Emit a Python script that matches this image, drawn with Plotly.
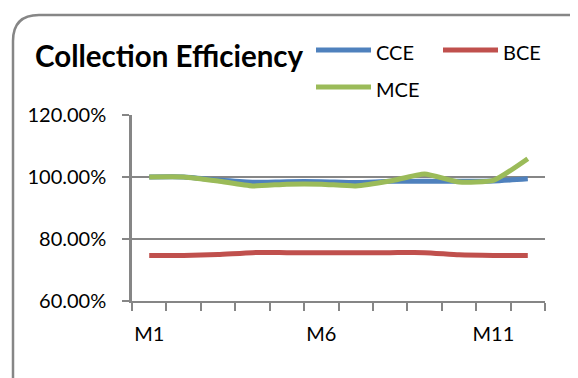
import plotly.graph_objects as go

# chart data
months = ["M1", "M2", "M3", "M4", "M5", "M6", "M7", "M8", "M9", "M10", "M11", "M12"]
cce = [100.0, 100.0, 99.0, 98.3, 98.5, 98.5, 98.2, 98.6, 98.6, 98.6, 98.7, 99.4]
bce = [74.7, 74.7, 75.0, 75.6, 75.6, 75.6, 75.6, 75.6, 75.6, 74.9, 74.7, 74.7]
mce = [100.0, 100.0, 98.7, 97.1, 97.7, 97.7, 97.1, 98.7, 101.0, 98.4, 98.9, 105.9]
series = ["CCE", "BCE", "MCE"]
colors = ["#4F81BD", "#C0504D", "#9BBB59"]
y_ticks = [60, 80, 100, 120]
x_labels = ["M1", "M6", "M11"]

# the page body adds an 8px margin, so the figure is shrunk by that much
OFF = 8
W, H = 578 - OFF, 378 - OFF
PL, PR, PT, PB = 132, 545, 115, 301  # plot area in screen pixels
FONT = "Lato"
GRID = "#868686"

x = list(range(1, len(months) + 1))


def px_x(p):
    return (p - PL) / (PR - PL)


def px_y(p):
    return (PB - p) / (PB - PT)


fig = go.Figure()
for name, vals, color in zip(series, [cce, bce, mce], colors):
    fig.add_trace(go.Scatter(
        x=x, y=vals, name=name, mode="lines",
        line=dict(color=color, width=5, shape="spline", smoothing=0.5),
        hovertext=months, showlegend=False,
    ))

# legend drawn by hand so the swatches match the Excel look (long, thick)
legend_pos = [(316, 50), (443, 50), (316, 87)]
for name, color, (lx, ly) in zip(series, colors, legend_pos):
    fig.add_shape(type="line", xref="paper", yref="paper",
                  x0=px_x(lx), x1=px_x(lx + 55), y0=px_y(ly), y1=px_y(ly),
                  line=dict(color=color, width=5))
    fig.add_annotation(text=name, xref="paper", yref="paper", x=px_x(lx + 58), y=px_y(ly + 2),
                       xanchor="left", yanchor="middle", showarrow=False,
                       font=dict(size=20, family=FONT, color="black"))

# rounded chart border like the Excel chart area
x0, y0, x1, y1 = px_x(13), px_y(15), px_x(600), px_y(400)
rx = 26 / (PR - PL)
ry = 26 / (PB - PT)
path = (f"M {x0},{y0 - ry} L {x0},{y1} L {x1},{y1} L {x1},{y0 - ry} "
        f"Q {x1},{y0} {x1 - rx},{y0} L {x0 + rx},{y0} Q {x0},{y0} {x0},{y0 - ry} Z")
fig.add_shape(type="path", path=path, xref="paper", yref="paper",
              line=dict(color=GRID, width=2.5), layer="below")

fig.update_layout(
    width=W, height=H,
    margin=dict(l=PL - OFF, r=W + OFF - PR, t=PT - OFF, b=H + OFF - PB),
    paper_bgcolor="white", plot_bgcolor="white",
    font=dict(family=FONT, size=20, color="black"),
    title=dict(text="<b>Collection Efficiency</b>", x=(35 - OFF) / W, xanchor="left",
               y=1 - (57 - OFF) / H, yanchor="middle", font=dict(size=29.5, family=FONT)),
    showlegend=False,
)
fig.update_yaxes(range=[60, 120], tickvals=y_ticks, ticktext=[f"{v:.2f}%" for v in y_ticks],
                 showgrid=True, gridcolor=GRID, gridwidth=2, zeroline=False,
                 showline=True, linecolor=GRID, linewidth=2.5,
                 ticks="outside", ticklen=7, tickwidth=2, tickcolor=GRID,
                 ticklabelstandoff=12)
fig.update_xaxes(range=[0.5, 12.5], tickvals=[1, 6, 11], ticktext=x_labels,
                 showgrid=False, zeroline=False, showline=True, linecolor=GRID, linewidth=2,
                 ticks="", ticklen=0, ticklabelstandoff=14,
                 minor=dict(tick0=0.5, dtick=1, ticks="outside", ticklen=8, tickwidth=2,
                            tickcolor=GRID, showgrid=False))

fig.write_html("out.html")
